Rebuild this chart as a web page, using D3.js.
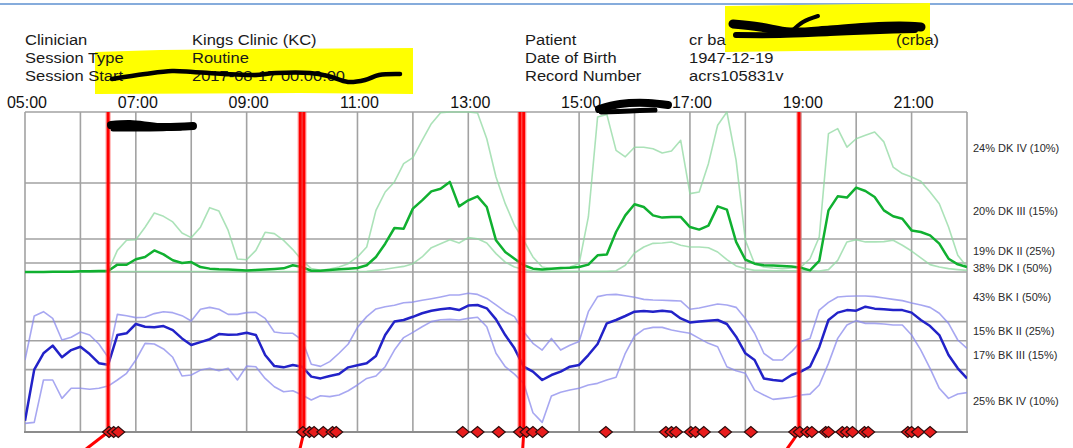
<!DOCTYPE html>
<html><head><meta charset="utf-8">
<script src="https://cdn.jsdelivr.net/npm/d3@7"></script>
<style>
html,body{margin:0;padding:0;background:#fff;overflow:hidden;}
svg{display:block;font-family:"Liberation Sans",Arial,sans-serif;}
</style></head><body>
<svg id="c" width="1073" height="448"></svg>
<script>
// ---------- data ----------
const startTime = "05:00";
const endTime = "22:00";
const stepMinutes = 10;

const dkMedian = [0,0,0,0.2,0.2,0.2,0.4,0.4,0.6,0.6,4.6,4.5,8,9.4,13.5,11,7.3,5.6,6.2,3.1,2.1,1.7,1.5,1.2,1,1.2,1.5,1.9,2.3,4.2,3.1,0.8,0.8,1.2,1.7,2.1,2.5,4.2,9.4,17.7,27.5,27,39.6,44.8,50.4,52,56.3,41,44.8,47.3,40.6,19.8,12.5,8.3,4.2,2.1,1.5,2.1,2.5,2.7,3.1,4.6,10.4,11,25,35.4,42.3,40.6,35.4,34,34.4,34.4,28.1,26.5,29,41,39,18.8,7.7,5.2,4.2,4,3.8,3.5,2.7,1,6.9,38.5,47.3,46.5,52.7,50.6,46.9,38.5,34.8,33.3,26,25,22.9,17.7,8.3,4.8,3.1];
const dkUpper = [0,0,0,0,0,0,0,0,0,0.5,13.5,19.8,20.2,28,36.9,34.8,31.3,24.4,21.5,28,40.2,38.1,26,8.1,7.7,13.5,24.8,24,19.8,14,7.3,2.1,1,1.9,3.1,5.2,9.4,15.6,38.5,50,56.3,67.7,71.5,82.3,92.7,99.6,100,100,100,99.4,83.3,59.4,42.7,29.2,19.8,9.4,3.1,2.1,2.1,3.1,5.2,34.4,96.9,98.5,76,72,78,78,77,74.4,75.6,82.3,49,50,67.7,91.7,100,69.8,19.8,5.2,3.1,2.5,2.1,2.5,3.1,8.3,21.9,86.5,89.6,78,83.3,85.4,87.5,81.3,65.6,61.5,59.4,56.7,50,42.7,28.1,10.4,3.1];
const dkLower = [0,0,0,0,0,0,0,0,0,0,0.3,0.3,0.3,0.3,0.3,0.3,0.3,0.3,0.3,0.3,0.3,0.3,0.3,0.3,0.3,0.3,0.3,0.3,0.3,0.3,0.3,0.3,0.3,0.3,0.3,0.3,0.3,0.4,1,1.7,2.7,3.5,5.2,9.4,15.2,17.7,20.2,18.1,21.5,20.8,18.1,11.5,6.2,3.1,1.5,0.6,0.4,0.4,0.4,0.4,0.4,0.4,0.4,0.4,0.8,4.2,11.9,15.6,17.9,18.1,18.8,16.7,15.6,15.6,15.2,12.5,7.7,3.8,2.1,1,1,0.8,0.8,0.8,0.8,0.8,0.6,1.5,7.3,18.8,20.2,18.8,18.8,19,19.8,16.7,13.1,8.8,4.6,3.1,2.1,1.5,1];
const bkMedian = [-93,-61,-50.8,-46,-53.3,-48.8,-46.7,-51.3,-57,-58,-39.4,-38.3,-32.5,-34.2,-34.6,-33.8,-36.3,-41.5,-45.6,-43.8,-42,-38.8,-39.2,-39,-38,-39.4,-51.9,-58.8,-59.6,-58.1,-59.2,-65.4,-66.5,-65,-63.8,-59.6,-58.3,-57,-52.5,-39.4,-31,-30,-28,-25.8,-24.2,-23.3,-22.7,-23.8,-21,-20.6,-22.7,-29.6,-39.4,-47.7,-59.2,-62.3,-67.5,-64.4,-62.3,-59.2,-58.1,-51.9,-45,-32.1,-30,-27.5,-24.8,-24.4,-24.8,-24.2,-24.8,-29,-31.5,-31,-30.4,-30,-32.5,-40.4,-50.8,-55,-66.5,-67.5,-68.1,-64.4,-62.3,-59.2,-47,-30,-25.4,-23.8,-24.2,-21.7,-22.9,-23.3,-23.8,-23.8,-25.4,-30,-33.8,-39.4,-51.9,-60.2,-66.5];
const bkUpper = [-55,-27.5,-24.8,-29,-42.5,-40.8,-37.5,-39.4,-45,-53.3,-26.5,-27.3,-28.5,-28.3,-26,-24.8,-25.4,-27.3,-30.6,-23.3,-22.1,-23.3,-26.5,-26.5,-25.4,-25.2,-29,-37.5,-38.3,-38.3,-42.5,-57.7,-59,-56,-50.8,-45,-34.6,-27.9,-23.1,-21.7,-20.8,-19.2,-18.8,-17.7,-16.7,-15.6,-14.4,-14.4,-13.3,-14,-16.5,-20.6,-24.8,-27.9,-37.3,-44.6,-48.8,-41.5,-48.8,-45.8,-43.5,-24.8,-15.4,-14.2,-14,-14.8,-15.8,-17.1,-17.5,-17.7,-17.9,-18.1,-23.3,-22.5,-21.3,-20,-20.6,-22.1,-29,-38.3,-50.8,-55,-55,-49.8,-43.5,-41.5,-23.8,-19,-15.6,-15.2,-15,-15,-15.4,-16.3,-17.1,-17.9,-19.4,-20.6,-22.1,-25.8,-32.1,-42.5,-47.7];
const bkLower = [-94.6,-94,-67.5,-67.5,-79,-72.7,-72.7,-73.3,-72.7,-71.3,-67.5,-63.3,-55,-44.6,-45,-48.1,-53.3,-65,-64.4,-61.3,-60.2,-61.7,-60.2,-67.5,-58.8,-59.2,-66.5,-71.7,-74.8,-74.2,-76.9,-80,-77.3,-77.9,-76.9,-74.2,-70.6,-66.5,-65,-59.2,-48.8,-41,-37.7,-34.2,-31,-29.8,-29.6,-30,-29,-28.3,-34.2,-50.8,-59.2,-63.8,-69.6,-88,-94,-77.5,-75.2,-73.8,-72.7,-70.6,-69.6,-67.5,-65.8,-50.8,-40,-35.8,-34.6,-34.6,-36.3,-37.3,-38.3,-41.5,-44.6,-46.7,-59.2,-61.7,-63.3,-73.8,-76.9,-79.6,-79,-78.3,-76.9,-76.3,-70.6,-57.1,-41.5,-33.1,-30.4,-32.1,-32.1,-32.5,-33.1,-33.1,-39.4,-48.8,-60.2,-72.7,-79,-76.3,-75.4];

const bandEdges = [100, 55.6, 20.6, 5.6, 0, -31, -43, -61, -100];
const bandLabels = ["24% DK IV (10%)","20% DK III (15%)","19% DK II (25%)","38% DK I (50%)","43% BK I (50%)","15% BK II (25%)","17% BK III (15%)","25% BK IV (10%)"];

const tickLabels = ["05:00","07:00","09:00","11:00","13:00","15:00","17:00","19:00","21:00"];
const eventTimes = ["06:30","09:58","10:02","13:56","14:00","18:58"];
const markerTimes = ["06:31","06:36","06:41","10:01","10:08","10:13","10:23","10:33","10:37","12:54","13:10","13:33","13:56","14:03","14:10","14:20","15:29","16:34","16:40","16:45","17:01","17:06","17:15","17:38","18:06","18:54","18:59","19:07","19:12","19:27","19:30","19:45","19:50","19:56","20:09","20:13","20:56","21:00","21:07","21:20"];

const headerLeftKeys = ["Clinician","Session Type","Session Start"];
const headerLeftVals = ["Kings Clinic (KC)","Routine","2017-08-17 00:00:00"];
const headerRightKeys = ["Patient","Date of Birth","Record Number"];
const headerRightVals = ["cr ba","1947-12-19","acrs105831v"];

// ---------- drawing ----------
const svg = d3.select("#c");
const parse = d3.timeParse("%H:%M");
const M = {left:25, right:967, top:112, bottom:432};
const x = d3.scaleTime().domain([parse(startTime), parse(endTime)]).range([M.left, M.right]);
const y = d3.scaleLinear().domain([-100, 100]).range([M.bottom, M.top]);
const t0 = parse(startTime);
const tAt = i => d3.timeMinute.offset(t0, i*stepMinutes);

// top blue rule
svg.append("line").attr("x1",0).attr("x2",1073).attr("y1",4).attr("y2",4)
  .attr("stroke","#86acdc").attr("stroke-width",2);

// yellow highlights
svg.append("path").attr("fill","#ffff00")
  .attr("d","M95,52 L160,50 L260,49 L413,48 L413,94 L300,93 L95,94 Z");
svg.append("path").attr("fill","#ffff00")
  .attr("d","M725,6 L930,3 L930,50 L800,51 L725,52 Z");

// header text
const hdr = svg.append("g").attr("fill","#1a1a1a").style("font-size","15px");
const rowY = [45, 63, 81];
function htext(tx, ty, s){
  hdr.append("text").attr("transform",`translate(${tx},${ty}) scale(1.1,1)`).text(s);
}
headerLeftKeys.forEach((s,i)=>htext(25,rowY[i],s));
headerLeftVals.forEach((s,i)=>htext(192,rowY[i],s));
headerRightKeys.forEach((s,i)=>htext(525,rowY[i],s));
headerRightVals.forEach((s,i)=>htext(689,rowY[i],s));
htext(896,45,"(crba)");

// plot background
const plot = svg.append("g");
plot.append("rect").attr("x",M.left).attr("y",M.top).attr("width",M.right-M.left).attr("height",M.bottom-M.top).attr("fill","#fff");

// grid
const grid = plot.append("g").attr("stroke","#a2a2a2").attr("stroke-width",1.6);
const hours = d3.timeHour.range(parse(startTime), d3.timeMinute.offset(parse(endTime),1));
grid.selectAll("line.v").data(hours).join("line")
  .attr("x1",d=>x(d)).attr("x2",d=>x(d)).attr("y1",M.top).attr("y2",M.bottom);
grid.selectAll("line.h").data(bandEdges).join("line")
  .attr("x1",M.left).attr("x2",M.right).attr("y1",d=>y(d)).attr("y2",d=>y(d));
plot.append("line").attr("x1",M.left-1).attr("x2",M.right+1).attr("y1",M.bottom).attr("y2",M.bottom)
  .attr("stroke","#8c8c8c").attr("stroke-width",2.2);

// tick labels
svg.append("g").attr("fill","#111").style("font-size","16px").attr("text-anchor","middle")
  .selectAll("text").data(tickLabels).join("text")
  .attr("x",d=>x(parse(d))+2).attr("y",108).text(d=>d);

// band labels
svg.append("g").attr("fill","#2a2a2a").style("font-size","11px")
  .selectAll("text").data(bandLabels).join("text")
  .attr("x",973).attr("y",(d,i)=>y((bandEdges[i]+bandEdges[i+1])/2)+4).text(d=>d);

// clip
svg.append("clipPath").attr("id","clip").append("rect")
  .attr("x",M.left).attr("y",M.top-1).attr("width",M.right-M.left).attr("height",M.bottom-M.top+2);
const lines = svg.append("g").attr("clip-path","url(#clip)");
const lineGen = d3.line().x((d,i)=>x(tAt(i))).y(d=>y(d)).curve(d3.curveLinear);
function drawSeries(arr, color, w, op){
  lines.append("path").datum(arr).attr("d",lineGen).attr("fill","none")
    .attr("stroke",color).attr("stroke-width",w).attr("stroke-opacity",op)
    .attr("stroke-linejoin","round");
}
drawSeries(dkUpper, "#8fd8a0", 1.6, 0.75);
drawSeries(dkLower, "#8fd8a0", 1.6, 0.75);
drawSeries(bkUpper, "#8a8aec", 1.6, 0.75);
drawSeries(bkLower, "#8a8aec", 1.6, 0.75);
drawSeries(dkMedian, "#10b030", 2.5, 1);
drawSeries(bkMedian, "#2222c8", 2.5, 1);

// event red lines
const ev = svg.append("g");
ev.selectAll("line.h").data(eventTimes).join("line")
  .attr("x1",d=>x(parse(d))).attr("x2",d=>x(parse(d))).attr("y1",M.top).attr("y2",M.bottom)
  .attr("stroke","#ff6060").attr("stroke-opacity",0.45).attr("stroke-width",5.5);
ev.selectAll("line.c").data(eventTimes).join("line")
  .attr("x1",d=>x(parse(d))).attr("x2",d=>x(parse(d))).attr("y1",M.top).attr("y2",M.bottom)
  .attr("stroke","#ff0000").attr("stroke-width",3);
// pointer stubs below the axis
const stubDx = [-22, -4, -4, -1, -1, -12];
ev.selectAll("line.s").data(eventTimes.filter((d,i)=>i!==1 && i!==3)).join("line")
  .attr("x1",d=>x(parse(d))).attr("y1",M.bottom)
  .attr("x2",(d)=>x(parse(d)) + stubDx[eventTimes.indexOf(d)]).attr("y2",449)
  .attr("stroke","#ff0000").attr("stroke-width",3);

// diamonds
svg.append("g").selectAll("path").data(markerTimes).join("path")
  .attr("transform",d=>`translate(${x(parse(d))},${M.bottom})`)
  .attr("d","M-6.5,0 L0,-5.5 L6.5,0 L0,5.5 Z")
  .attr("fill","#e81c1c").attr("stroke","#2a0c0c").attr("stroke-width",1.1);

// redaction scribbles
const scr = svg.append("g").attr("fill","none").attr("stroke","#000")
  .attr("stroke-linecap","round").attr("stroke-linejoin","round");
const sl = d3.line().curve(d3.curveCatmullRom);
scr.append("path").attr("stroke-width",4.5).attr("d",sl([[112,79],[145,74],[172,71],[193,72],[224,74],[255,75],[276,73],[310,73],[328,76],[348,82],[365,80],[379,75],[400,74]]));
scr.append("path").attr("stroke-width",9).attr("d",sl([[733,24],[760,27],[790,32],[830,30],[870,27],[900,26],[921,27]]));
scr.append("path").attr("stroke-width",6).attr("d",sl([[736,35],[780,35],[830,33],[880,31],[915,30]]));
scr.append("path").attr("stroke-width",4).attr("d",sl([[792,31],[803,22],[818,16]]));
scr.append("path").attr("stroke-width",8).attr("d",sl([[111,125],[130,124],[160,127],[193,126]]));
scr.append("path").attr("stroke-width",5).attr("d",sl([[113,129],[150,129],[180,128]]));
scr.append("path").attr("stroke-width",8).attr("d",sl([[599,109],[620,104],[648,103],[668,105]]));
scr.append("path").attr("stroke-width",5).attr("d",sl([[601,112],[630,111],[655,110]]));
</script>
</body></html>
